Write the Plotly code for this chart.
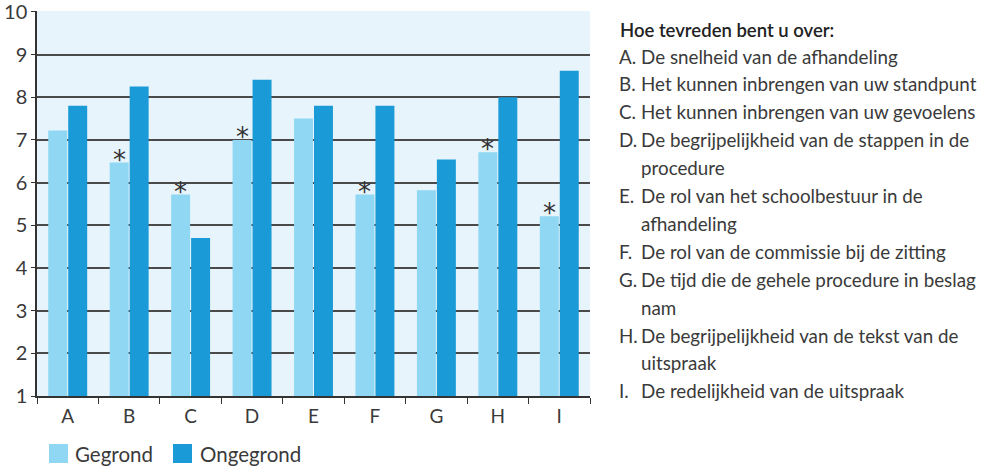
import plotly.graph_objects as go

categories = ["A", "B", "C", "D", "E", "F", "G", "H", "I"]
gegrond = [7.22, 6.47, 5.72, 7.0, 7.5, 5.72, 5.82, 6.71, 5.21]
ongegrond = [7.8, 8.25, 4.7, 8.41, 7.8, 7.8, 6.54, 8.0, 8.62]
significant = [False, True, True, True, False, True, False, True, True]
y_ticks = [1, 2, 3, 4, 5, 6, 7, 8, 9, 10]

question = "Hoe tevreden bent u over:"
descriptions = [
    ["De snelheid van de afhandeling"],
    ["Het kunnen inbrengen van uw standpunt"],
    ["Het kunnen inbrengen van uw gevoelens"],
    ["De begrijpelijkheid van de stappen in de", "procedure"],
    ["De rol van het schoolbestuur in de", "afhandeling"],
    ["De rol van de commissie bij de zitting"],
    ["De tijd die de gehele procedure in beslag", "nam"],
    ["De begrijpelijkheid van de tekst van de", "uitspraak"],
    ["De redelijkheid van de uitspraak"],
]

font_family = "Lato"
text_color = "#3a3a3a"
light = "#8fd7f3"
dark = "#1a9bd7"

W, H = 983, 468
ml, mt = 37, 11
mr, mb = 983 - 590, 468 - 396
plot_h = H - mt - mb
plot_w = W - ml - mr
bargap = 0.35
bargroupgap = 0.05


def px_to_paper_y(py):
    return (H - mb - py) / plot_h


def px_to_paper_x(px):
    return (px - ml) / plot_w


fig = go.Figure()

# bars start at the axis floor (1)
fig.add_trace(
    go.Bar(
        x=categories,
        y=[v - 1 for v in gegrond],
        base=1,
        name="Gegrond",
        marker=dict(color=light, line=dict(width=0)),
        showlegend=False,
    )
)

fig.add_trace(
    go.Bar(
        x=categories,
        y=[v - 1 for v in ongegrond],
        base=1,
        name="Ongegrond",
        marker=dict(color=dark, line=dict(width=0)),
        showlegend=False,
    )
)

# asterisks above the significant Gegrond bars
slot_px = plot_w / len(categories) * (1 - bargap) / 2
annotations = []
for cat, val, sig in zip(categories, gegrond, significant):
    if sig:
        annotations.append(
            dict(
                text="*",
                x=cat, y=val, xref="x", yref="y",
                xshift=-slot_px / 2, yshift=-14,
                xanchor="center", yanchor="bottom",
                showarrow=False,
                font=dict(family="DejaVu Sans", size=26, color="#333"),
            )
        )

annotations.append(
    dict(
        text=question,
        x=px_to_paper_x(618), y=px_to_paper_y(30),
        xref="paper", yref="paper", xanchor="left", yanchor="middle",
        showarrow=False,
        font=dict(family=font_family, size=18.5, color="#222", weight=600),
    )
)

line_y = 56
step = 27.9
for letter, lines in zip(categories, descriptions):
    annotations.append(
        dict(
            text=letter + ".",
            x=px_to_paper_x(617), y=px_to_paper_y(line_y),
            xref="paper", yref="paper", xanchor="left", yanchor="middle",
            showarrow=False,
            font=dict(family=font_family, size=18.8, color=text_color),
        )
    )
    for line in lines:
        annotations.append(
            dict(
                text=line,
                x=px_to_paper_x(639), y=px_to_paper_y(line_y),
                xref="paper", yref="paper", xanchor="left", yanchor="middle",
                showarrow=False,
                font=dict(family=font_family, size=18.8, color=text_color),
            )
        )
        line_y += step

# legend drawn by hand to get the large square swatches
legend_items = [("Gegrond", light, 49, 73), ("Ongegrond", dark, 173, 198)]
shapes = []
for label, color, sx, tx in legend_items:
    shapes.append(
        dict(
            type="rect", xref="paper", yref="paper",
            x0=px_to_paper_x(sx), x1=px_to_paper_x(sx + 19),
            y0=px_to_paper_y(463), y1=px_to_paper_y(444),
            fillcolor=color, line=dict(width=0),
        )
    )
    annotations.append(
        dict(
            text=label,
            x=px_to_paper_x(tx), y=px_to_paper_y(454),
            xref="paper", yref="paper", xanchor="left", yanchor="middle",
            showarrow=False,
            font=dict(family=font_family, size=20.5, color=text_color),
        )
    )

fig.update_layout(
    width=W,
    height=H,
    margin=dict(l=ml, r=mr, t=mt, b=mb),
    paper_bgcolor="white",
    plot_bgcolor="#e7f4fb",
    barmode="group",
    bargap=bargap,
    bargroupgap=bargroupgap,
    font=dict(family=font_family, color=text_color),
    showlegend=False,
    annotations=annotations,
    shapes=shapes,
)

fig.update_xaxes(
    showline=True,
    linecolor="#333",
    linewidth=1.5,
    ticks="outside",
    tickson="boundaries",
    ticklen=6,
    tickcolor="#333",
    tickfont=dict(size=19, color=text_color),
    ticklabelstandoff=2,
    showgrid=False,
    automargin=False,
)

fig.update_yaxes(
    range=[1, 10.02],
    tickmode="array",
    tickvals=y_ticks,
    showline=True,
    linecolor="#333",
    linewidth=1.5,
    ticks="outside",
    ticklen=4,
    tickcolor="#333",
    showgrid=True,
    gridcolor="#4a4a4a",
    gridwidth=1.5,
    zeroline=False,
    tickfont=dict(size=20, color=text_color),
    ticklabelstandoff=0,
    ticklabeloverflow="allow",
    automargin=False,
)

# drop the default 8px page margin so the figure sits in the corner
fig.write_html(
    "out.html",
    config={"displayModeBar": False},
    post_script="document.body.style.margin = '0';",
)
